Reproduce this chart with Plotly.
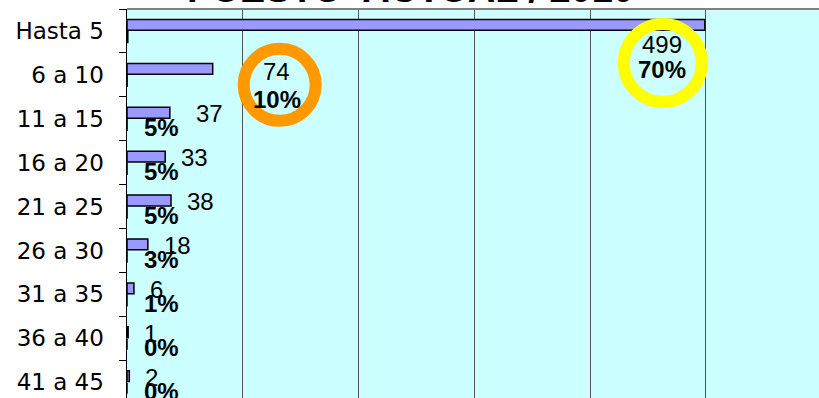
import plotly.graph_objects as go

categories = ["Hasta 5", "6 a 10", "11 a 15", "16 a 20", "21 a 25",
              "26 a 30", "31 a 35", "36 a 40", "41 a 45"]
counts = [499, 74, 37, 33, 38, 18, 6, 1, 2]
shares = [0.705, 0.105, 0.052, 0.047, 0.054, 0.0254, 0.008, 0.001, 0.003]
title_text = "PUESTO  ACTUAL / 2010"

LABEL_FONT = "Arial"

fig = go.Figure()
fig.add_trace(go.Bar(
    y=categories, x=counts, orientation="h", name="Cantidad",
    marker=dict(color="#9999FF", line=dict(color="black", width=1.5)),
))
fig.add_trace(go.Bar(
    y=categories, x=shares, orientation="h", name="%",
    marker=dict(color="black", line=dict(color="black", width=1.5)),
))

annotations = []
for i, (c, s) in enumerate(zip(counts, shares)):
    if i == 0:
        cx, cy, px_, py = -43, -14, -43, -39
        canchor = "center"
    elif i == 1:
        cx, cy, px_, py = 64, 3, 64, -25
        canchor = "center"
    else:
        cx, cy = (24 if i == 2 else 14), 5
        canchor = "left"
    annotations.append(dict(
        x=c, y=i, xref="x", yref="y", text=str(c), showarrow=False,
        xanchor=canchor, yanchor="middle", xshift=cx, yshift=cy,
        font=dict(family=LABEL_FONT, size=24, color="black")))
    if i < 2:
        annotations.append(dict(
            x=c, y=i, xref="x", yref="y", text=f"<b>{s:.0%}</b>", showarrow=False,
            xanchor="center", yanchor="middle", xshift=px_, yshift=py,
            font=dict(family=LABEL_FONT, size=24, color="black")))
    else:
        annotations.append(dict(
            x=0, y=i, xref="x", yref="y", text=f"<b>{s:.0%}</b>", showarrow=False,
            xanchor="center", yanchor="middle", xshift=34, yshift=-9,
            font=dict(family=LABEL_FONT, size=24, color="black")))

annotations.append(dict(
    x=0.41, y=0.993, xref="paper", yref="paper", text=f"<b>{title_text}</b>",
    showarrow=False, xanchor="center", yanchor="bottom",
    font=dict(family=LABEL_FONT, size=38, color="black")))

shapes = [
    dict(type="circle", xref="x", yref="y", xsizemode="pixel", ysizemode="pixel",
         xanchor=counts[0], yanchor=0, x0=-81, x1=-3, y0=-71, y1=7,
         line=dict(color="#FFFF00", width=12), layer="above"),
    dict(type="circle", xref="x", yref="y", xsizemode="pixel", ysizemode="pixel",
         xanchor=counts[1], yanchor=1, x0=31, x1=103, y0=-46, y1=26,
         line=dict(color="#FF9900", width=12), layer="above"),
    dict(type="line", xref="paper", yref="paper", x0=0, x1=1, y0=1, y1=1,
         line=dict(color="#808080", width=2)),
]

fig.update_layout(
    width=819, height=398,
    margin=dict(l=127, r=0, t=9, b=0, autoexpand=False),
    paper_bgcolor="white", plot_bgcolor="#CCFFFF",
    barmode="group", bargap=0.45, bargroupgap=0.1,
    showlegend=False,
    annotations=annotations, shapes=shapes,
    xaxis=dict(range=[0, 597.6], dtick=100, tick0=0, showgrid=True,
               gridcolor="#555555", gridwidth=1, showticklabels=False,
               zeroline=False, showline=False, fixedrange=True),
    yaxis=dict(type="category", range=[8.36, -0.5], tickson="boundaries",
               ticks="outside", ticklen=7, tickcolor="black", tickwidth=1,
               showline=True, linecolor="black", linewidth=1.5,
               showgrid=False, ticklabelstandoff=17, fixedrange=True,
               tickfont=dict(family="DejaVu Sans", size=23, color="black")),
)

fig.write_html(
    "out.html",
    config={"displayModeBar": False, "staticPlot": True},
    post_script="document.body.style.margin='0';document.body.style.overflow='hidden';",
)
